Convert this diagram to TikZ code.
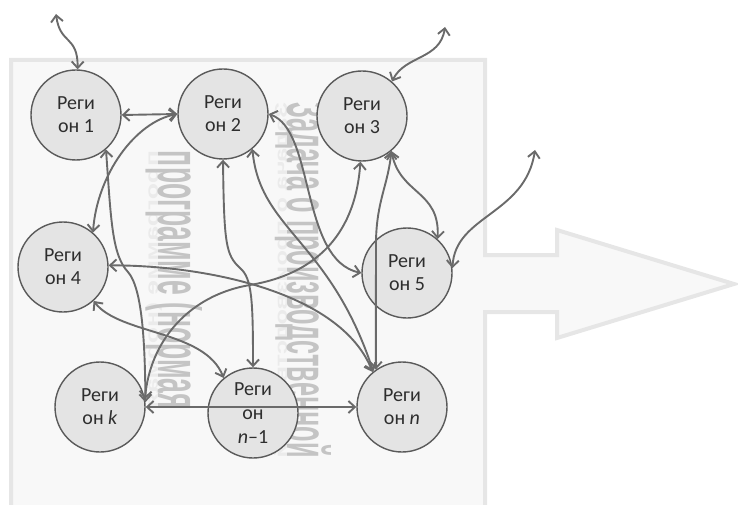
\documentclass[tikz,border=0pt]{standalone}
\usepackage{fontspec}
\usepackage{graphicx}
\setmainfont{Carlito}
\newfontfamily\bgfont{Liberation Sans}
\usetikzlibrary{arrows.meta}

\definecolor{bgfill}{HTML}{F8F8F8}
\definecolor{bgline}{HTML}{E6E6E6}
\definecolor{bgtext}{HTML}{C4C4C4}
\definecolor{bgghost}{HTML}{EBEBEB}
\definecolor{nodefill}{HTML}{E4E4E4}
\definecolor{nodeline}{HTML}{5A5A5A}
\definecolor{linkcol}{HTML}{6A6A6A}
\definecolor{textcol}{HTML}{2E2E2E}

\tikzset{
  region/.style={circle, draw=nodeline, fill=nodefill, line width=1.4pt,
    minimum size=90pt, inner sep=0pt, align=center, text=textcol,
    font=\fontsize{20}{23}\selectfont},
  link/.style={draw=linkcol, line width=1.9pt, <->,
    >={Straight Barb[length=6.5pt,width=12pt]}},
  bigarrow/.style={fill=bgfill, draw=bgline, line width=4pt, line join=miter},
  bgword/.style={rotate=-90, anchor=base, inner sep=0pt,
    font=\bgfont\bfseries\fontsize{40}{40}\selectfont}
}

\begin{document}
\begin{tikzpicture}[x=1pt,y=-1pt]
\useasboundingbox (0,0) rectangle (738,505);

% wide background arrow pointing right
\begin{scope}
  \clip (0,0) rectangle (738,505);
  \path[bigarrow] (11,60) -- (485,60) -- (485,255) -- (557,255) -- (557,230)
    -- (734,284) -- (557,338) -- (557,312) -- (485,312) -- (485,520)
    -- (11,520) -- cycle;
\end{scope}

% faint vertical title with its soft reflection
\node[bgword, text=bgghost] (g1) at (287,280)
  {\scalebox{1}[-1]{\resizebox{355pt}{13pt}{Задача о производственной}}};
\node[bgword, text=bgtext] (w1) at (287,280)
  {\resizebox{355pt}{44pt}{Задача о производственной}};
\node[bgword, text=bgghost] (g2) at (158,280)
  {\scalebox{1}[-1]{\resizebox{258pt}{13pt}{программе (нормая}}};
\node[bgword, text=bgtext] (w2) at (158,280)
  {\resizebox{258pt}{44pt}{программе (нормая}};

% regions
\node[region] (r1)  at (76,115)  {Реги\\он 1};
\node[region] (r2)  at (223,114) {Реги\\он 2};
\node[region] (r3)  at (362,116) {Реги\\он 3};
\node[region] (r4)  at (63,267)  {Реги\\он 4};
\node[region] (r5)  at (407,273) {Реги\\он 5};
\node[region] (rk)  at (100,407) {Реги\\он \textit{k}};
\node[region, font=\fontsize{20}{24}\selectfont] (rn1) at (253,413) {Реги\\он\\\textit{n}–1};
\node[region] (rn)  at (402,407) {Реги\\он \textit{n}};

% outer links
\coordinate (t1) at (56,14);
\coordinate (t2) at (445,27);
\coordinate (t3) at (535,150);
\draw[link] (t1) .. controls (60,45) and (78,35) .. (r1.88);
\draw[link] (r3.49) .. controls (405,55) and (440,60) .. (t2);
\draw[link] (r5.6) .. controls (455,215) and (525,215) .. (t3);

% links between regions
\draw[link] (r1.east) -- (r2.west);
\draw[link] (r2.west) .. controls (135,122) and (97,175) .. (r4.49);
\draw[link] (r1.-49) .. controls (111,220) and (112,255) .. (128,272)
  .. controls (142,288) and (145,340) .. (rk.6);
\draw[link] (r2.south) .. controls (224,245) and (226,255) .. (240,268)
  .. controls (252,278) and (253,300) .. (rn1.north);
\draw[link] (r2.-50) .. controls (260,230) and (330,240) .. (rn.129);
\draw[link] (r2.east) .. controls (315,130) and (300,260) .. (r5.west);
\draw[link] (r3.-92) .. controls (355,240) and (310,275) .. (250,285)
  .. controls (190,295) and (150,340) .. (rk.10);
\draw[link] (r3.-50) .. controls (400,195) and (440,190) .. (r5.48);
\draw[link] (r3.-50) .. controls (388,185) and (377,200) .. (376,240) -- (rn.125);
\draw[link] (r4.2) .. controls (200,265) and (340,290) .. (rn.130);
\draw[link] (r4.-48) .. controls (120,335) and (205,330) .. (rn1.130);
\draw[link] (rk.east) -- (rn.west);
\end{tikzpicture}
\end{document}
